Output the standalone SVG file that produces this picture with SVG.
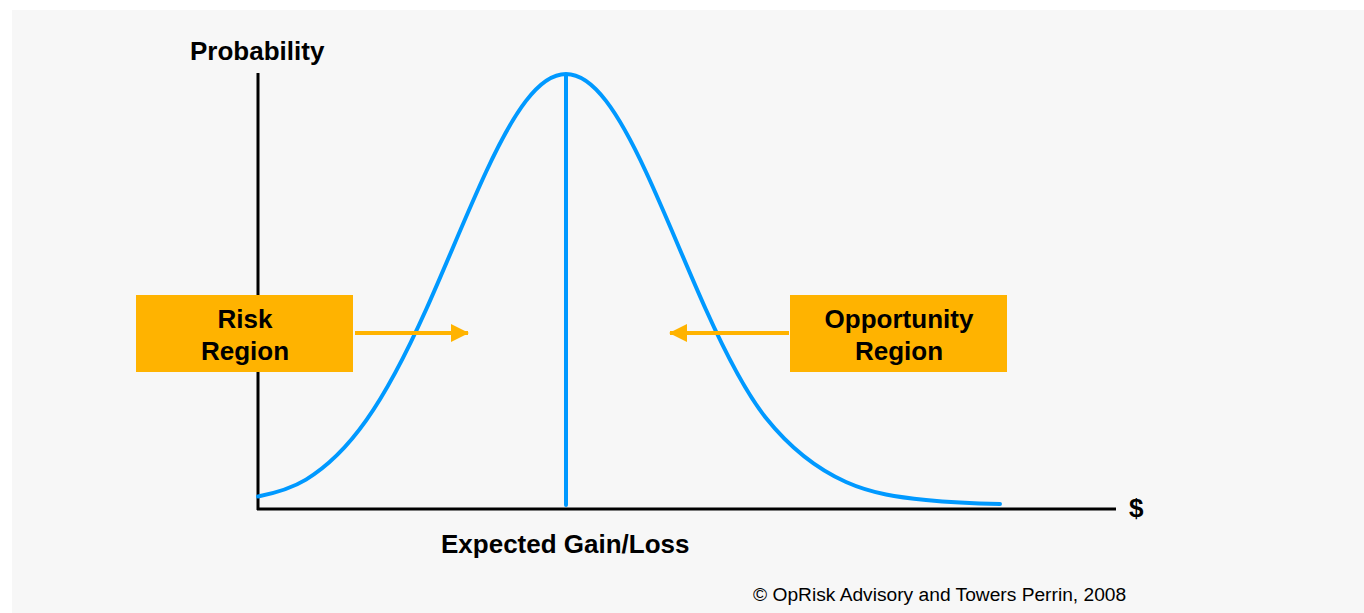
<svg xmlns="http://www.w3.org/2000/svg" width="1364" height="613" viewBox="0 0 1364 613">
<style>
.lbl{font-family:"Liberation Sans",Arial,sans-serif;font-weight:bold;font-size:26px;fill:#000}
.box{fill:#FFB300}
.axis{stroke:#000;stroke-width:3;fill:none}
.curve{stroke:#0099FF;stroke-width:4;fill:none;stroke-linejoin:round;stroke-linecap:round}
.arr{stroke:#FFB300;stroke-width:4;fill:none}
</style>
<defs>
<marker id="ah" markerWidth="18" markerHeight="18" viewBox="0 0 18 18" refX="17" refY="9" orient="auto" markerUnits="userSpaceOnUse">
<path d="M0,0 L18,9 L0,18 Z" fill="#FFB300"/>
</marker>
</defs>
<rect x="0" y="0" width="1364" height="613" fill="#ffffff"/>
<rect x="12" y="10" width="1352" height="603" fill="#f7f7f7"/>
<g id="axes">
<line class="axis" x1="258" y1="73" x2="258" y2="510"/>
<line class="axis" x1="257" y1="509" x2="1116" y2="509"/>
</g>
<g id="curve">
<path class="curve" d="M258,496.5 C274,493.3 290,489.3 306,479.6 C326,467.4 346,448.9 366,420.7 C386,392.5 406,354.3 426,309.8 C446,265.3 466,215 486,172 C499.3,143.3 512.7,118.2 526,100.9 C539.3,83.6 552.7,74 566,74 C579.3,74 592.7,83.6 606,100.9 C619.3,118.2 632.7,143.3 646,172 C666,215 686,265.3 706,309.8 C726,354.3 746,393 766,418 C792.7,451.3 819.3,470 846,482 C872.7,494 899.3,497.3 926,500 C950.7,502.5 975.3,503.5 1000,504"/>
<line class="curve" x1="566" y1="76" x2="566" y2="505"/>
</g>
<g id="connectors">
<line class="arr" x1="355" y1="333" x2="468" y2="333" marker-end="url(#ah)"/>
<line class="arr" x1="789" y1="333" x2="670" y2="333" marker-end="url(#ah)"/>
</g>
<g id="risk-region">
<rect class="box" x="136" y="295" width="217" height="77"/>
<text class="lbl" x="245" y="328" text-anchor="middle">Risk</text>
<text class="lbl" x="245" y="360" text-anchor="middle">Region</text>
</g>
<g id="opportunity-region">
<rect class="box" x="790" y="295" width="217" height="77"/>
<text class="lbl" x="899" y="328" text-anchor="middle">Opportunity</text>
<text class="lbl" x="899" y="360" text-anchor="middle">Region</text>
</g>
<g id="labels">
<text class="lbl" x="190" y="60">Probability</text>
<text class="lbl" x="441" y="553">Expected Gain/Loss</text>
<text class="lbl" x="1129" y="517">$</text>
<text x="753" y="601" font-family="'Liberation Sans',Arial,sans-serif" font-size="19.2" fill="#000">© OpRisk Advisory and Towers Perrin, 2008</text>
</g>
</svg>
